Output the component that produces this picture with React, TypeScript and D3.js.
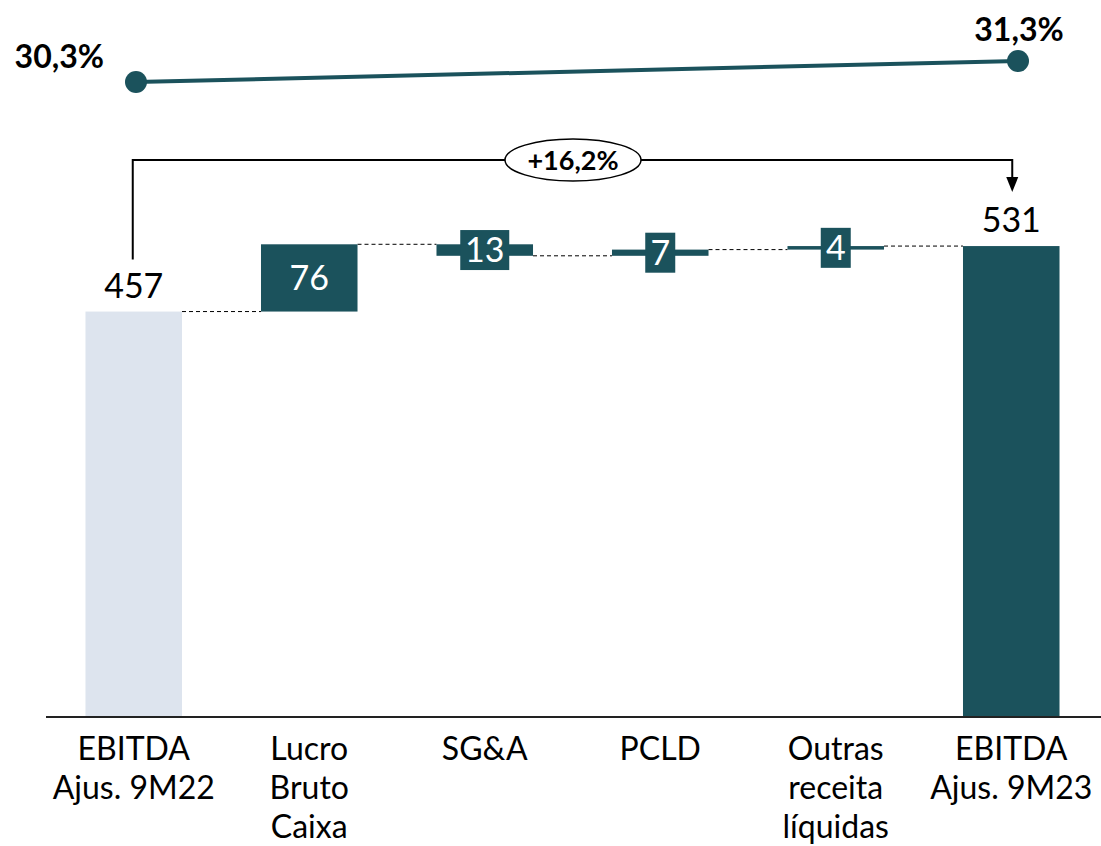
import React from "react";
import * as d3 from "d3";

const categories = ["EBITDA\nAjus. 9M22", "Lucro\nBruto\nCaixa", "SG&A", "PCLD", "Outras\nreceita\nlíquidas", "EBITDA\nAjus. 9M23"];
const values = [457, 76, -13, 7, 4, 531];
const kinds = ["total", "delta", "delta", "delta", "delta", "total"];
const marginLabels = ["30,3%", "31,3%"];
const marginValues = [30.3, 31.3];
const growthLabel = "+16,2%";

const TEAL = "#1b525c";
const LIGHT = "#dde4ee";
const FONT = "Lato, 'Open Sans', sans-serif";

export default function App() {
  const W = 1101, H = 846;
  const x = d3.scaleBand<string>().domain(categories).range([46, 1099]).paddingInner(0.45).paddingOuter(0.225);
  const y = d3.scaleLinear().domain([0, 600]).range([716, 716 - 600 * 0.885]);
  const mx = d3.scalePoint<number>().domain([0, 1]).range([136, 1018]);
  const my = d3.scaleLinear().domain([30, 32]).range([88.3, 46.3]);

  let cum = 0;
  const bars = values.map((v, i) => {
    let start: number, end: number;
    if (kinds[i] === "total") { start = 0; end = v; cum = v; }
    else { start = cum; end = cum + v; cum = end; }
    return { cat: categories[i], v, start, end, kind: kinds[i] };
  });
  const bw = x.bandwidth();

  const c0 = x(categories[0])! + bw / 2;
  const c5 = x(categories[5])! + bw / 2;
  const bracketY = 160;

  return (
    <div style={{ position: "absolute", left: 0, top: 0 }}>
      <svg width={W} height={H} style={{ display: "block" }} fontFamily={FONT}>
        {/* margin line */}
        <line x1={mx(0)} y1={my(marginValues[0])} x2={mx(1)} y2={my(marginValues[1])} stroke={TEAL} strokeWidth={4} />
        {marginValues.map((m, i) => (
          <circle key={i} cx={mx(i)} cy={my(m)} r={11} fill={TEAL} />
        ))}
        <text x={mx(0)! - 32} y={my(marginValues[0]) - 14} textAnchor="end" fontWeight="bold" fontSize={32} fill="#000">{marginLabels[0]}</text>
        <text x={mx(1)! + 1} y={my(marginValues[1]) - 20} textAnchor="middle" fontWeight="bold" fontSize={32} fill="#000">{marginLabels[1]}</text>

        {/* bracket */}
        <path d={`M${c0 - 1},${y(values[0]) - 52} V${bracketY} H${c5 + 1} V${bracketY + 18}`} fill="none" stroke="#000" strokeWidth={2} />
        <path d={`M${c5 + 1 - 6},${bracketY + 17} L${c5 + 1 + 6},${bracketY + 17} L${c5 + 1},${bracketY + 32} Z`} fill="#000" />
        <ellipse cx={573} cy={bracketY} rx={68} ry={21} fill="#fff" stroke="#000" strokeWidth={1.5} />
        <text x={573} y={bracketY + 10} textAnchor="middle" fontWeight="bold" fontSize={27} fill="#000">{growthLabel}</text>

        {/* connectors */}
        {bars.slice(0, -1).map((b, i) => (
          <line key={"c" + i} x1={x(b.cat)! + bw} x2={x(bars[i + 1].cat)!} y1={y(b.end)} y2={y(b.end)} stroke="#000" strokeWidth={1} strokeDasharray="4,3" />
        ))}

        {/* bars */}
        {bars.map((b, i) => {
          const top = y(Math.max(b.start, b.end));
          const bot = y(Math.min(b.start, b.end));
          const h = bot - top;
          const cx = x(b.cat)! + bw / 2;
          const fill = i === 0 ? LIGHT : TEAL;
          const label = String(Math.abs(b.v));
          const mid = (top + bot) / 2;
          return (
            <g key={i}>
              <rect x={x(b.cat)} y={top} width={bw} height={h} fill={fill} />
              {b.kind === "total" ? (
                <text x={cx} y={top - 14} textAnchor="middle" fontSize={34} fill="#000">{label}</text>
              ) : h > 44 ? (
                <text x={cx} y={mid + 12} textAnchor="middle" fontSize={34} fill="#fff">{label}</text>
              ) : (
                <g>
                  <rect x={cx - (label.length * 19 + 11) / 2} y={mid - 20} width={label.length * 19 + 11} height={40} fill={TEAL} />
                  <text x={cx} y={mid + 12} textAnchor="middle" fontSize={34} fill="#fff">{label}</text>
                </g>
              )}
            </g>
          );
        })}

        {/* axis */}
        <line x1={46} x2={1101} y1={y(0) + 1} y2={y(0) + 1} stroke="#222" strokeWidth={2} />
        {categories.map((c, i) => (
          <text key={i} x={x(c)! + bw / 2} y={760} textAnchor="middle" fontSize={32} fill="#000">
            {c.split("\n").map((ln, j) => (
              <tspan key={j} x={x(c)! + bw / 2} dy={j === 0 ? 0 : 39}>{ln}</tspan>
            ))}
          </text>
        ))}
      </svg>
    </div>
  );
}
